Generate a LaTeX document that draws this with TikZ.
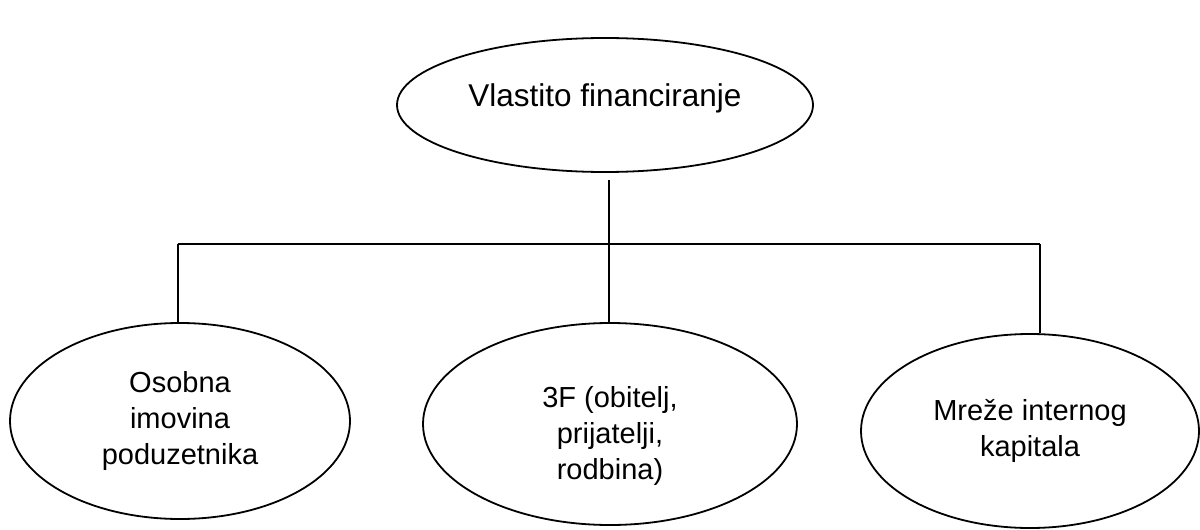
\documentclass[tikz,border=0pt]{standalone}
\usepackage{fontspec}
\setmainfont{Liberation Sans}
\usetikzlibrary{shapes.geometric}
\begin{document}
\begin{tikzpicture}[x=1pt,y=-1pt,
  oval/.style={ellipse, draw=black, line width=1.8pt, inner sep=0pt, align=center,
    font=\fontsize{29}{36}\selectfont},
  link/.style={draw=black, line width=1.2pt}]
\useasboundingbox (0,0) rectangle (1200,530);
\node[oval, minimum width=416pt, minimum height=134pt,
  font=\fontsize{31.5}{38}\selectfont] (top) at (605,105)
  {Vlastito financiranje\rule[-19pt]{0pt}{19pt}};
\node[oval, minimum width=340pt, minimum height=196pt] (left) at (180,421)
  {Osobna\\imovina\\poduzetnika};
\node[oval, minimum width=374pt, minimum height=202pt] (mid) at (610,424)
  {\rule{0pt}{44pt}3F (obitelj,\\prijatelji,\\rodbina)};
\node[oval, minimum width=338pt, minimum height=194pt] (right) at (1030,431)
  {Mreže internog\\kapitala};
\coordinate (bl) at (178,244);
\coordinate (br) at (1040,244);
\coordinate (tb) at (609,180);
\path[link] (tb) -- (tb |- mid.north);
\path[link] (bl) -- (br);
\path[link] (bl) -- (bl |- left.north);
\path[link] (br) -- (br |- right.north);
\end{tikzpicture}
\end{document}
